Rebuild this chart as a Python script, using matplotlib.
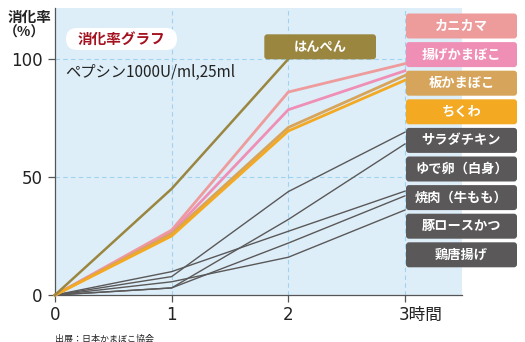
import matplotlib
matplotlib.use("Agg")
import matplotlib.pyplot as plt
from matplotlib.patches import FancyBboxPatch

plt.rcParams['font.family'] = ['Noto Sans CJK JP', 'DejaVu Sans']

# hours after start
hours = [0, 1, 2, 3]

# digestion rate (%) per food
hanpen = [0, 45, 100]
kanikama = [0, 27.5, 86, 98]
age_kamaboko = [0, 26.5, 78.5, 95]
ita_kamaboko = [0, 26, 71, 93]
chikuwa = [0, 25, 69.5, 91]
salad_chicken = [0, 7.8, 43.8, 69]
yudetamago = [0, 3.0, 32, 64]
yakiniku = [0, 9.9, 27, 44]
tonkatsu = [0, 3.0, 22, 42]
karaage = [0, 5.6, 16, 36]

fish_series = [kanikama, age_kamaboko, ita_kamaboko, chikuwa]
fish_colors = ['#ee9b9c', '#f08fb5', '#d7a45c', '#f3a922']
meat_series = [salad_chicken, yudetamago, yakiniku, tonkatsu, karaage]
meat_color = '#5a5858'
hanpen_color = '#9b8640'

legend_names = ['カニカマ', '揚げかまぼこ', '板かまぼこ', 'ちくわ',
                'サラダチキン', 'ゆで卵（白身）', '焼肉（牛もも）', '豚ロースかつ', '鶏唐揚げ']
legend_colors = fish_colors + [meat_color] * 5

num_font = ['DejaVu Sans', 'Noto Sans CJK JP']

fig = plt.figure(figsize=(5.25, 3.42), dpi=100)
ax = fig.add_axes([55 / 525, 1 - 295 / 342, 407 / 525, 287 / 342])
ax.set_facecolor('#ddeef9')
ax.set_xlim(0, 3.489)
ax.set_ylim(0, 121.6)

# dashed guides
for x in [1, 2, 3]:
    ax.axvline(x, color='#9fd3f0', lw=0.8, ls=(0, (4, 3)), zorder=1)
for y in [50, 100]:
    ax.axhline(y, color='#9fd3f0', lw=0.8, ls=(0, (4, 3)), zorder=1)

for s in meat_series:
    ax.plot(hours, s, color=meat_color, lw=1.0, zorder=3, clip_on=False)
for s, c in zip(fish_series, fish_colors):
    ax.plot(hours, s, color=c, lw=2.0, zorder=4, clip_on=False)
ax.plot(hours[:3], hanpen, color=hanpen_color, lw=1.8, zorder=5, clip_on=False)

for side in ['top', 'right']:
    ax.spines[side].set_visible(False)
for side in ['left', 'bottom']:
    ax.spines[side].set_color('#555555')
    ax.spines[side].set_linewidth(0.9)

ax.set_xticks([0, 1, 2, 3])
ax.set_xticklabels(['0', '1', '2', ''])
ax.set_yticks([0, 50, 100])
ax.set_yticklabels(['0', '50', '100'])
ax.tick_params(axis='both', colors='#555555', labelcolor='#222222', labelsize=12,
               length=5, width=0.9)
ax.tick_params(axis='y', pad=4)
ax.tick_params(axis='x', pad=3)
for lab in ax.get_xticklabels() + ax.get_yticklabels():
    lab.set_family(num_font)
ax.annotate('3時間', xy=(3, 0), xycoords='data', xytext=(-4.3, -8), textcoords='offset points',
            ha='left', va='top', fontsize=12, color='#222222', family=num_font)

# axis title
fig.text(8 / 525, 1 - 17 / 342, '消化率', fontsize=10.5, fontweight='bold', color='#222222',
         ha='left', va='center')
fig.text(4 / 525, 1 - 33 / 342, '（%）', fontsize=10, fontweight='bold', color='#222222',
         ha='left', va='center')

# title pill
tr = fig.dpi_scale_trans
fig.patches.append(FancyBboxPatch((0.66, 3.42 - 0.50), 1.11, 0.22,
                                  boxstyle='round,pad=0,rounding_size=0.11',
                                  fc='white', ec='none', transform=tr, figure=fig))
fig.text(121.5 / 525, 1 - 39 / 342, '消化率グラフ', fontsize=10.5, fontweight='bold',
         color='#a5121f', ha='center', va='center')
fig.text(65 / 525, 1 - 72 / 342, 'ペプシン1000U/ml,25ml', fontsize=11, color='#222222',
         ha='left', va='center')

# はんぺん tag
fig.patches.append(FancyBboxPatch((2.643, 3.42 - 0.593), 1.117, 0.25,
                                  boxstyle='round,pad=0,rounding_size=0.03',
                                  fc=hanpen_color, ec='none', transform=tr, figure=fig))
fig.text(320 / 525, 1 - 47 / 342, 'はんぺん', fontsize=9.5, fontweight='bold', color='white',
         ha='center', va='center')

# legend tags on the right
top = 13.5
for name, c in zip(legend_names, legend_colors):
    fig.patches.append(FancyBboxPatch((4.06, 3.42 - (top + 25) / 100), 1.11, 0.25,
                                      boxstyle='round,pad=0,rounding_size=0.03',
                                      fc=c, ec='none', transform=tr, figure=fig, zorder=6))
    fig.text(461.5 / 525, 1 - (top + 12.5) / 342, name, fontsize=9.5, fontweight='bold',
             color='white', ha='center', va='center', zorder=7)
    top += 28.6

fig.text(55 / 525, 1 - 339 / 342, '出展：日本かまぼこ協会', fontsize=6.5, color='#222222',
         ha='left', va='center')

fig.savefig('out.png', dpi=100)
